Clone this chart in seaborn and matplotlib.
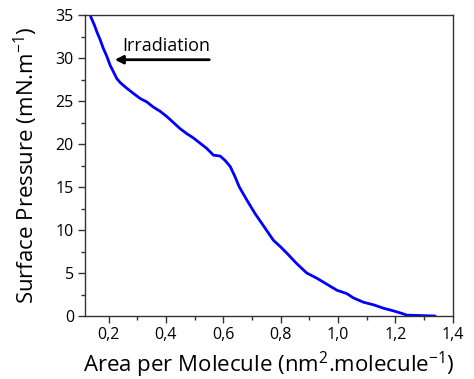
import matplotlib
matplotlib.use("Agg")
import matplotlib.pyplot as plt
import seaborn as sns
import pandas as pd
from matplotlib.ticker import FuncFormatter, MultipleLocator

# isotherm
area = [0.138, 0.151, 0.161, 0.170, 0.182, 0.194, 0.205, 0.217, 0.229, 0.242,
        0.263, 0.286, 0.310, 0.333, 0.356, 0.380, 0.403, 0.426, 0.449, 0.473,
        0.496, 0.519, 0.542, 0.566, 0.589, 0.606, 0.624, 0.641, 0.656,
        0.682, 0.711, 0.740, 0.775, 0.798, 0.822, 0.856, 0.891, 0.926, 0.961,
        0.996, 1.031, 1.054, 1.089, 1.124, 1.159, 1.193, 1.223, 1.240, 1.339]
pressure = [34.8, 33.8, 32.9, 32.2, 31.1, 30.2, 29.2, 28.4, 27.6, 27.1,
            26.5, 25.9, 25.3, 24.9, 24.3, 23.8, 23.2, 22.5, 21.8, 21.2,
            20.7, 20.1, 19.5, 18.7, 18.6, 18.1, 17.4, 16.2, 15.0,
            13.5, 11.9, 10.5, 8.8, 8.1, 7.3, 6.1, 5.0, 4.4, 3.7,
            3.0, 2.6, 2.1, 1.6, 1.3, 0.9, 0.6, 0.3, 0.1, 0.0]

df = pd.DataFrame({'area': area, 'pressure': pressure})

sns.set_style("ticks")
plt.rcParams['font.family'] = ['Open Sans', 'DejaVu Sans']
plt.rcParams['text.color'] = 'black'
plt.rcParams['axes.labelcolor'] = 'black'
plt.rcParams['mathtext.fontset'] = 'custom'
plt.rcParams['mathtext.rm'] = 'Open Sans'
plt.rcParams['mathtext.default'] = 'regular'

fig = plt.figure(figsize=(4.74, 3.79), dpi=100)
ax = fig.add_axes([85 / 474, 1 - 316 / 379, (452.7 - 85) / 474, (316 - 15) / 379])

sns.lineplot(data=df, x='area', y='pressure', color='#0000ff', linewidth=2,
             sort=False, estimator=None, ax=ax)

ax.set_xlim(0.118, 1.4)
ax.set_ylim(0, 35)
ax.xaxis.set_major_locator(MultipleLocator(0.2))
ax.xaxis.set_minor_locator(MultipleLocator(0.1))
ax.yaxis.set_major_locator(MultipleLocator(5))
ax.yaxis.set_minor_locator(MultipleLocator(2.5))

def comma_fmt(x, pos):
    return f'{x:.1f}'.replace('.', ',')

ax.xaxis.set_major_formatter(FuncFormatter(comma_fmt))
ax.tick_params(which='major', length=5, width=1, labelsize=11.5,
               color='#333333', labelcolor='black', pad=3)
ax.tick_params(which='minor', length=3, width=1, color='#333333')
ax.tick_params(top=False, right=False)

for s in ax.spines.values():
    s.set_color('#333333')
    s.set_linewidth(1)

ax.set_xlabel('Area per Molecule (nm$^{2}$.molecule$^{-1}$)', fontsize=16, labelpad=5)
ax.set_ylabel('Surface Pressure (mN.m$^{-1}$)', fontsize=16, labelpad=11)

ax.annotate('', xy=(0.212, 29.8), xytext=(0.561, 29.8),
            arrowprops=dict(arrowstyle='-|>', color='black', lw=2, mutation_scale=12))
ax.text(0.40, 31.4, 'Irradiation', fontsize=13, ha='center', va='center')

fig.savefig('out.png', dpi=100)
